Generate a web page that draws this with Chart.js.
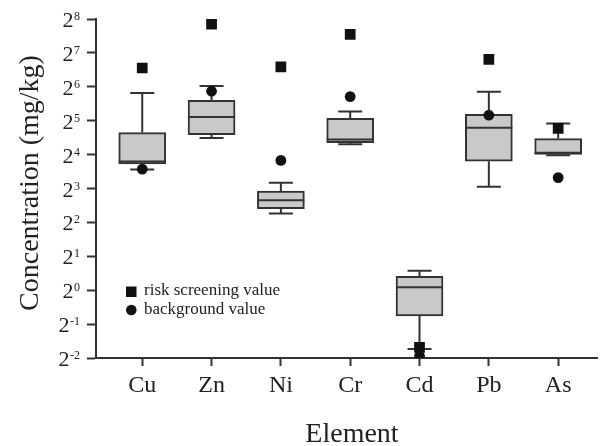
<!DOCTYPE html>
<html>
<head>
<meta charset="utf-8">
<script src="https://cdn.jsdelivr.net/npm/chart.js@4/dist/chart.umd.min.js"></script>
<style>
  html, body { margin: 0; padding: 0; background: #fff; }
  #wrap { width: 605px; height: 446px; }
</style>
</head>
<body>
<div id="wrap"><canvas id="boxChart" width="605" height="446"></canvas></div>
<script>
// data (mg/kg)
const elements = ['Cu', 'Zn', 'Ni', 'Cr', 'Cd', 'Pb', 'As'];
const whiskerMin = [11.8, 22.5, 4.8, 19.8, 0.30, 8.3, 15.8];
const quartile1 = [13.2, 24.1, 5.3, 20.4, 0.59, 14.0, 16.1];
const medians = [13.9, 34.5, 6.3, 21.8, 1.06, 27.7, 16.6];
const quartile3 = [25.1, 48.5, 7.6, 33.6, 1.33, 36.5, 22.2];
const whiskerMax = [56.5, 64.9, 9.0, 38.6, 1.49, 57.7, 30.2];
const riskValue = [94, 231, 96, 187, 0.31, 112, 27.3];
const backgroundValue = [11.9, 58.5, 14.2, 52.4, 0.26, 35.8, 10.0];
const yExponents = [-2, -1, 0, 1, 2, 3, 4, 5, 6, 7, 8];

const serif = "'Liberation Serif', 'Times New Roman', serif";
const ink = '#222';

// whiskers + median lines, drawn right after the boxes
const whiskerPlugin = {
    id: 'whiskers',
    afterDatasetDraw(chart, args) {
        if (args.index !== 0) return;
        const ctx = chart.ctx;
        const xs = chart.scales.x, ys = chart.scales.y;
        ctx.save();
        ctx.strokeStyle = '#333';
        ctx.lineWidth = 2;
        for (let i = 0; i < elements.length; i++) {
            const x = xs.getPixelForValue(i);
            const half = 12, boxHalf = 23.5;
            const yMin = ys.getPixelForValue(whiskerMin[i]);
            const yQ1 = ys.getPixelForValue(quartile1[i]);
            const yMed = ys.getPixelForValue(medians[i]);
            const yQ3 = ys.getPixelForValue(quartile3[i]);
            const yMax = ys.getPixelForValue(whiskerMax[i]);
            ctx.beginPath();
            ctx.moveTo(x, yQ3); ctx.lineTo(x, yMax);
            ctx.moveTo(x - half, yMax); ctx.lineTo(x + half, yMax);
            ctx.moveTo(x, yQ1); ctx.lineTo(x, yMin);
            ctx.moveTo(x - half, yMin); ctx.lineTo(x + half, yMin);
            ctx.moveTo(x - boxHalf, yMed); ctx.lineTo(x + boxHalf, yMed);
            ctx.stroke();
        }
        ctx.restore();
    }
};

// y labels as 2^n, axis titles and the little legend
const textPlugin = {
    id: 'texts',
    afterDraw(chart) {
        const ctx = chart.ctx;
        const ys = chart.scales.y;
        ctx.save();
        ctx.fillStyle = ink;
        yExponents.forEach(function (e) {
            const y = ys.getPixelForValue(Math.pow(2, e));
            const expText = String(e);
            ctx.font = '12px ' + serif;
            ctx.textAlign = 'right';
            ctx.textBaseline = 'alphabetic';
            const right = 80;
            ctx.fillText(expText, right, y + 1);
            const w = ctx.measureText(expText).width;
            ctx.font = '22px ' + serif;
            ctx.fillText('2', right - w - 0.5, y + 8);
        });

        // y title
        ctx.font = '28px ' + serif;
        ctx.textAlign = 'center';
        ctx.textBaseline = 'middle';
        ctx.translate(31, 183);
        ctx.rotate(-Math.PI / 2);
        ctx.fillText('Concentration (mg/kg)', 0, 0);
        ctx.setTransform(1, 0, 0, 1, 0, 0);

        // x title
        ctx.textBaseline = 'alphabetic';
        ctx.fillText('Element', 352, 442);

        // legend
        ctx.fillStyle = '#111';
        ctx.fillRect(126, 286.5, 10.5, 10.5);
        ctx.beginPath();
        ctx.arc(131.3, 310, 5.3, 0, Math.PI * 2);
        ctx.fill();
        ctx.fillStyle = ink;
        ctx.font = '17px ' + serif;
        ctx.textAlign = 'left';
        ctx.textBaseline = 'middle';
        ctx.fillText('risk screening value', 144, 291);
        ctx.fillText('background value', 144, 310);
        ctx.restore();
    }
};

const boxData = elements.map(function (el, i) {
    return { x: i, y: [quartile1[i], quartile3[i]] };
});
const riskPoints = elements.map(function (el, i) {
    return { x: i, y: riskValue[i] };
});
const bgPoints = elements.map(function (el, i) {
    return { x: i, y: backgroundValue[i] };
});

const ctx = document.getElementById('boxChart').getContext('2d');
const chart = new Chart(ctx, {
    type: 'bar',
    data: {
        datasets: [{
            label: 'box',
            data: boxData,
            backgroundColor: '#c9c9c9',
            borderColor: '#333',
            borderWidth: 2,
            borderSkipped: false,
            barThickness: 47,
            order: 3
        }, {
            type: 'scatter',
            label: 'risk screening value',
            data: riskPoints,
            pointStyle: 'rect',
            pointRadius: 7.6,
            backgroundColor: '#111',
            borderColor: '#111',
            borderWidth: 0,
            order: 2
        }, {
            type: 'scatter',
            label: 'background value',
            data: bgPoints,
            pointStyle: 'circle',
            pointRadius: 5.4,
            backgroundColor: '#111',
            borderColor: '#111',
            borderWidth: 0,
            order: 1
        }]
    },
    options: {
        responsive: false,
        animation: false,
        layout: { padding: { top: 19, right: 0, left: 0, bottom: 0 } },
        plugins: {
            legend: { display: false },
            tooltip: { enabled: false }
        },
        scales: {
            x: {
                type: 'linear',
                offset: false,
                min: -0.667,
                max: 6.566,
                afterBuildTicks: function (scale) {
                    scale.ticks = elements.map(function (el, i) { return { value: i }; });
                },
                afterFit: function (scale) { scale.height = 88; },
                ticks: {
                    callback: function (value) { return elements[value]; },
                    font: { family: serif, size: 24 },
                    color: ink,
                    padding: 5,
                    maxRotation: 0,
                    autoSkip: false
                },
                grid: {
                    offset: false,
                    drawOnChartArea: false,
                    drawTicks: true,
                    tickLength: 8,
                    tickWidth: 2,
                    tickColor: '#333'
                },
                border: { color: '#333', width: 2 }
            },
            y: {
                type: 'logarithmic',
                min: 0.25,
                max: 256,
                afterBuildTicks: function (scale) {
                    scale.ticks = yExponents.map(function (e) { return { value: Math.pow(2, e) }; });
                },
                afterFit: function (scale) { scale.width = 96; },
                ticks: { display: false },
                grid: {
                    drawOnChartArea: false,
                    drawTicks: true,
                    tickLength: 9,
                    tickWidth: 2,
                    tickColor: '#333'
                },
                border: { color: '#333', width: 2 }
            }
        }
    },
    plugins: [whiskerPlugin, textPlugin]
});
</script>
</body>
</html>
